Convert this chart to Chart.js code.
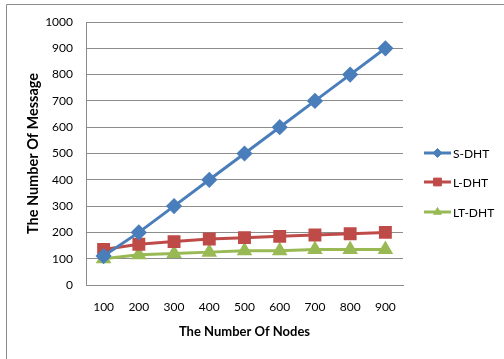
<!DOCTYPE html>
<html>
<head>
<meta charset="utf-8">
<style>
  html, body { margin: 0; padding: 0; background: #fff; }
  #wrap { position: relative; width: 504px; height: 359px; }
</style>
<script src="https://cdn.jsdelivr.net/npm/chart.js@4/dist/chart.umd.min.js"></script>
</head>
<body>
<div id="wrap"><canvas id="c" width="504" height="359"></canvas></div>
<script>
const nodes = ['100', '200', '300', '400', '500', '600', '700', '800', '900'];
const sDHT  = [110, 200, 300, 400, 500, 600, 700, 800, 900];
const lDHT  = [135, 155, 165, 175, 180, 185, 190, 195, 200];
const ltDHT = [100, 115, 120, 125, 130, 130, 135, 135, 135];

const FONT = 'Lato, "Open Sans", sans-serif';

// Frame around the whole figure
const framePlugin = {
  id: 'frame',
  beforeDraw(chart) {
    const ctx = chart.ctx;
    ctx.save();
    ctx.strokeStyle = '#8c8c8c';
    ctx.lineWidth = 1;
    ctx.beginPath();
    ctx.moveTo(6.5, 359);
    ctx.lineTo(6.5, 4.5);
    ctx.lineTo(504, 4.5);
    ctx.stroke();
    ctx.restore();
  }
};

// Legend on the right: short line with the series marker in its middle
const sideLegend = {
  id: 'sideLegend',
  afterDraw(chart) {
    const ctx = chart.ctx;
    const x0 = 424, x1 = 451, ys = [153, 182, 212];
    chart.data.datasets.forEach((ds, i) => {
      const y = ys[i];
      ctx.save();
      ctx.strokeStyle = ds.borderColor;
      ctx.lineWidth = 3;
      ctx.beginPath();
      ctx.moveTo(x0, y);
      ctx.lineTo(x1, y);
      ctx.stroke();
      ctx.fillStyle = ds.backgroundColor;
      ctx.strokeStyle = ds.borderColor;
      ctx.lineWidth = 1;
      Chart.helpers.drawPoint(ctx, {
        pointStyle: ds.pointStyle,
        radius: ds.pointRadius - 1.5,
        borderWidth: 1,
        rotation: 0
      }, (x0 + x1) / 2, y);
      ctx.fillStyle = '#000';
      ctx.font = '12px ' + FONT;
      ctx.textBaseline = 'middle';
      ctx.textAlign = 'left';
      ctx.fillText(ds.label, x1 + 2, y + 1);
      ctx.restore();
    });
  }
};

new Chart(document.getElementById('c'), {
  type: 'line',
  data: {
    labels: nodes,
    datasets: [
      { label: 'S-DHT', data: sDHT, borderColor: '#4a7ebb', backgroundColor: '#4a7ebb',
        borderWidth: 3, pointStyle: 'rectRot', pointRadius: 6, tension: 0 },
      { label: 'L-DHT', data: lDHT, borderColor: '#be4b48', backgroundColor: '#be4b48',
        borderWidth: 3, pointStyle: 'rect', pointRadius: 7, tension: 0 },
      { label: 'LT-DHT', data: ltDHT, borderColor: '#98b954', backgroundColor: '#98b954',
        borderWidth: 3, pointStyle: 'triangle', pointRadius: 6, tension: 0 }
    ]
  },
  options: {
    responsive: false,
    animation: false,
    devicePixelRatio: 1,
    layout: { padding: { left: 0, top: 22, right: 101, bottom: 0 } },
    plugins: { legend: { display: false }, tooltip: { enabled: false } },
    scales: {
      x: {
        offset: true,
        grid: { display: false, drawTicks: false },
        border: { color: '#8c8c8c', width: 1 },
        ticks: { color: '#000', font: { family: FONT, size: 12 }, padding: 15, maxRotation: 0 },
        title: { display: true, text: 'The Number Of Nodes', color: '#000',
                 font: { family: FONT, size: 13, weight: 'bold' }, padding: { top: 0, bottom: 19 } },
        afterFit(s) { s.height = 74; }
      },
      y: {
        min: 0, max: 1000,
        ticks: { stepSize: 100, color: '#000', font: { family: FONT, size: 12 }, padding: 13,
                 callback: v => String(v) },
        grid: { color: '#8c8c8c', drawTicks: false },
        border: { color: '#8c8c8c', width: 1 },
        title: { display: true, text: 'The Number Of Message', color: '#000',
                 font: { family: FONT, size: 14.5, weight: 'bold' }, padding: { top: 25, bottom: 0 } },
        afterFit(s) { s.width = 86; }
      }
    }
  },
  plugins: [framePlugin, sideLegend]
});
</script>
</body>
</html>
